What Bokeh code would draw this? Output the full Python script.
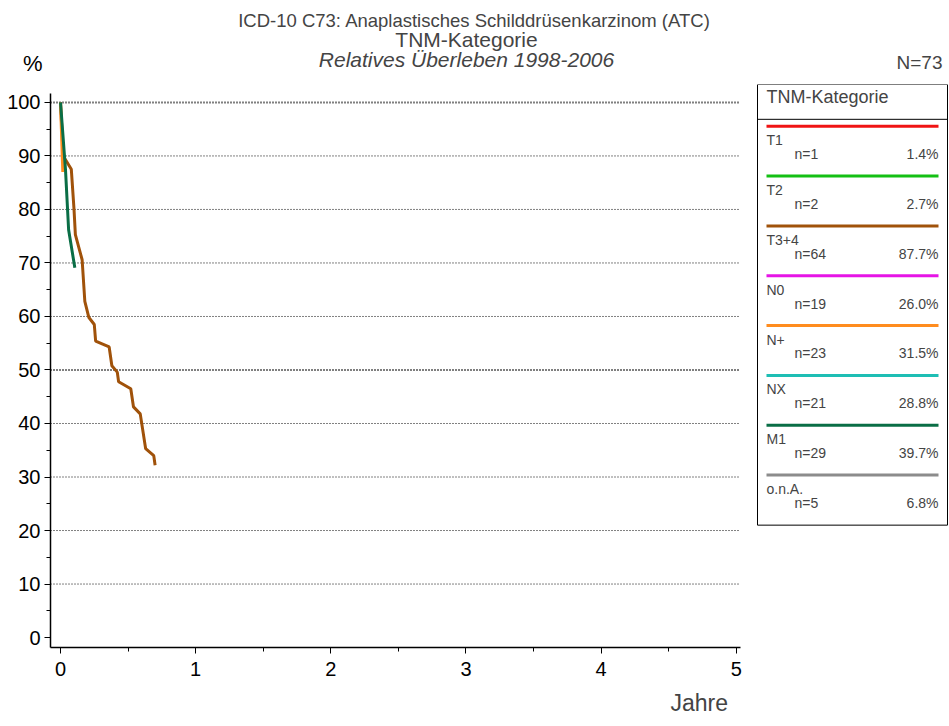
from bokeh.plotting import figure
from bokeh.models import Range1d, LinearAxis, Label, Title, FixedTicker
from bokeh.layouts import column
from bokeh.embed import file_html
from bokeh.resources import INLINE

FONT = "Liberation Sans"

# survival curves (years, percent)
t34_x = [0, 0.02, 0.044, 0.08, 0.10, 0.11, 0.16, 0.18, 0.21, 0.25, 0.26, 0.36, 0.38, 0.42, 0.43, 0.52, 0.54, 0.59, 0.63, 0.69, 0.70]
t34_y = [100, 90, 89, 87.5, 80, 75.3, 70.6, 62.8, 59.8, 58.5, 55.4, 54.3, 50.8, 49.6, 47.8, 46.5, 43.1, 41.8, 35.3, 34.0, 32.2]
m1_x = [0, 0.037, 0.06, 0.106]
m1_y = [100, 87.4, 76.2, 69.1]
np_x = [0, 0.017]
np_y = [100, 87]

groups = ["T1", "T2", "T3+4", "N0", "N+", "NX", "M1", "o.n.A."]
counts = [1, 2, 64, 19, 23, 21, 29, 5]
shares = ["1.4%", "2.7%", "87.7%", "26.0%", "31.5%", "28.8%", "39.7%", "6.8%"]
colors = ["#f01414", "#14c014", "#a0520a", "#e614e6", "#ff8c1e", "#1ebeb4", "#0a6e46", "#8c8c8c"]


def lab(fig, x, y, t, size, align="left", style="normal"):
    fig.add_layout(Label(x=x, y=y, text=t, text_font=FONT, text_font_size=size, text_align=align,
                         text_baseline="middle", text_font_style=style, x_range_name="px", y_range_name="py"))


# header strip (frame aligned with the main plot's frame)
top = figure(width=949, height=76, output_backend="svg", toolbar_location=None,
             x_range=Range1d(50, 948), y_range=Range1d(76, 0),
             min_border=0, x_axis_location=None, y_axis_location=None)
top.outline_line_color = None
top.xgrid.visible = False
top.ygrid.visible = False
top.extra_x_ranges = {"px": Range1d(50, 948)}
top.extra_y_ranges = {"py": Range1d(76, 0)}
unit_axis = LinearAxis(ticker=FixedTicker(ticks=[63]), major_label_overrides={63: "%"},
                       axis_line_color=None, major_tick_line_color=None, minor_tick_line_color=None,
                       major_label_text_font=FONT, major_label_text_font_size="22px",
                       major_label_text_color="black", major_label_standoff=2)
top.add_layout(unit_axis, "left")
lab(top, 474, 20, "ICD-10 C73: Anaplastisches Schilddrüsenkarzinom (ATC)", "18.5px", "center")
lab(top, 466, 39, "TNM-Kategorie", "21px", "center")
lab(top, 466, 59, "Relatives Überleben 1998-2006", "21px", "center", "italic")
lab(top, 942, 62, "N=73", "19px", "right")

p = figure(width=949, height=648, output_backend="svg", toolbar_location=None,
           x_range=Range1d(-0.074, 6.57), y_range=Range1d(-1.86, 103.35),
           min_border_left=50, min_border_right=1, min_border_top=8, min_border_bottom=68,
           x_axis_location=None, y_axis_location=None)
p.outline_line_color = None
p.xgrid.visible = False
p.ygrid.visible = False
p.extra_x_ranges = {"px": Range1d(50, 948)}
p.extra_y_ranges = {"py": Range1d(650, 84)}

xa = LinearAxis(ticker=FixedTicker(ticks=[0, 1, 2, 3, 4, 5], minor_ticks=[0.5, 1.5, 2.5, 3.5, 4.5]),
                bounds=(-0.074, 5.03))
ya = LinearAxis(ticker=FixedTicker(ticks=list(range(0, 101, 10)), minor_ticks=list(range(5, 100, 10))),
                bounds=(-1.86, 101.7))
for ax in (xa, ya):
    ax.major_label_text_font = FONT
    ax.major_label_text_font_size = "20px"
    ax.major_label_text_color = "black"
    ax.axis_line_color = "black"
    ax.axis_line_width = 1.5
    ax.major_tick_in = 0
    ax.major_tick_out = 6
    ax.minor_tick_in = 0
    ax.minor_tick_out = 4
xa.major_label_standoff = 8
ya.major_label_standoff = 4
p.add_layout(xa, "below")
p.add_layout(ya, "left")
p.add_layout(Title(text="Jahre", text_font=FONT, text_font_size="23px", text_font_style="normal",
                   align="left", offset=620, standoff=18), "below")

# dotted grid
for v in range(10, 101, 10):
    w = 2 if v in (50, 100) else 1
    p.segment(x0=-0.074, y0=v, x1=5.03, y1=v, line_color="black", line_width=w, line_dash="1 2")

p.line(t34_x, t34_y, line_color=colors[2], line_width=3)
p.line(np_x, np_y, line_color=colors[4], line_width=3)
p.line(m1_x, m1_y, line_color=colors[6], line_width=3)

# legend box
p.quad(left=757, right=947, top=84, bottom=527, fill_color="white", line_color="black",
       line_width=1, x_range_name="px", y_range_name="py")
p.line([757, 947], [119, 119], line_color="black", line_width=1, x_range_name="px", y_range_name="py")
lab(p, 766, 97, "TNM-Kategorie", "18px")
for i, g in enumerate(groups):
    ly = 126 + i * 50.1
    p.line([766, 938], [ly, ly], line_color=colors[i], line_width=3, x_range_name="px", y_range_name="py")
    lab(p, 766, ly + 14, g, "14px")
    lab(p, 794, ly + 28, "n=%d" % counts[i], "14px")
    lab(p, 938, ly + 28, shares[i], "14px", "right")

open("out.html", "w").write(file_html(column(top, p, spacing=0), INLINE))
